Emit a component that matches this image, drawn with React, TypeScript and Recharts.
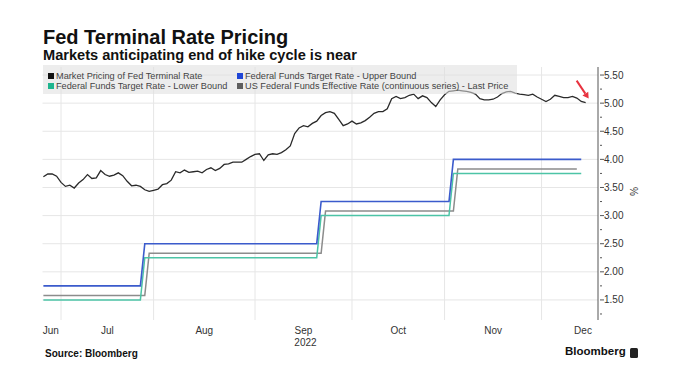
import React from "react";
import { LineChart, Line, XAxis, YAxis, ReferenceLine, ReferenceDot } from "recharts";

// x positions are weekday counts from Mon 27 Jun 2022
const monthLabels = ["Jun", "Jul", "Aug", "Sep", "Oct", "Nov", "Dec"];
const monthLabelDays = [1.7, 14.5, 36.5, 59, 80.5, 102, 122.4];
const monthStartDays = [4, 25, 48, 70, 91, 113];
const yearLabel = "2022";

const marketPricing = [
  3.69, 3.74, 3.74, 3.7, 3.59, 3.52, 3.54, 3.49, 3.58, 3.64,
  3.73, 3.66, 3.67, 3.8, 3.73, 3.7, 3.72, 3.76, 3.71, 3.61,
  3.53, 3.54, 3.52, 3.46, 3.43, 3.45, 3.47, 3.55, 3.57, 3.63,
  3.78, 3.76, 3.81, 3.77, 3.78, 3.79, 3.76, 3.82, 3.85, 3.8,
  3.84, 3.91, 3.92, 3.95, 3.95, 3.95, 4.0, 4.05, 4.09, 4.1,
  3.98, 4.08, 4.1, 4.09, 4.12, 4.17, 4.24, 4.46, 4.56, 4.6,
  4.58, 4.64, 4.68, 4.78, 4.83, 4.85, 4.82, 4.71, 4.6, 4.63,
  4.68, 4.63, 4.65, 4.69, 4.75, 4.82, 4.85, 4.85, 4.9, 5.08,
  5.12, 5.08, 5.1, 5.14, 5.16, 5.08, 5.13, 5.1, 5.01, 4.94,
  5.06, 5.15, 5.21, 5.22, 5.23, 5.22, 5.21, 5.19, 5.16, 5.08,
  5.06, 5.06, 5.07, 5.11, 5.17, 5.2, 5.21, 5.18, 5.16, 5.15,
  5.14, 5.16, 5.11, 5.07, 5.03, 5.07, 5.14, 5.12, 5.1, 5.1,
  5.12, 5.09, 5.03, 5.01,
];

// step series: only the corner points
const targetDays = [0, 22, 23, 62, 63, 92, 93, 122];
const upperBound = [1.75, 1.75, 2.5, 2.5, 3.25, 3.25, 4, 4];
const lowerBound = [1.5, 1.5, 2.25, 2.25, 3, 3, 3.75, 3.75];
const effectiveDays = [0, 23, 24, 63, 64, 93, 94, 121];
const effectiveRate = [1.58, 1.58, 2.33, 2.33, 3.08, 3.08, 3.83, 3.83];

const yTicks = [1.25, 1.5, 1.75, 2, 2.25, 2.5, 2.75, 3, 3.25, 3.5, 3.75, 4, 4.25, 4.5, 4.75, 5, 5.25, 5.5];
const yLabelTicks = [1.5, 2, 2.5, 3, 3.5, 4, 4.5, 5, 5.5];

const FONT = '"Liberation Sans", Arial, sans-serif';

const marketData = marketPricing.map((v, i) => ({ day: i, value: v }));
const upperData = targetDays.map((d, i) => ({ day: d, value: upperBound[i] }));
const lowerData = targetDays.map((d, i) => ({ day: d, value: lowerBound[i] }));
const effData = effectiveDays.map((d, i) => ({ day: d, value: effectiveRate[i] }));

const legend = [
  { name: "Market Pricing of Fed Terminal Rate", color: "#111111", left: 48, top: 72 },
  { name: "Federal Funds Target Rate - Upper Bound", color: "#1f45d6", left: 237, top: 72 },
  { name: "Federal Funds Target Rate - Lower Bound", color: "#1fb58e", left: 48, top: 82 },
  { name: "US Federal Funds Effective Rate (continuous series) - Last Price", color: "#5e5e5e", left: 237, top: 82 },
];

function MonthTick(props: any) {
  const { x, y, payload } = props;
  const i = monthLabelDays.indexOf(payload.value);
  return (
    <g>
      <text x={x} y={y} dy={12} textAnchor="middle" fontSize={10} fill="#333" fontFamily={FONT}>
        {monthLabels[i]}
      </text>
      {monthLabels[i] === "Sep" && (
        <text x={x + 2} y={y} dy={24} textAnchor="middle" fontSize={10} fill="#333" fontFamily={FONT}>
          {yearLabel}
        </text>
      )}
    </g>
  );
}

function RateTick(props: any) {
  const { x, y, payload } = props;
  const major = yLabelTicks.includes(payload.value);
  return (
    <g>
      <line x1={x} x2={x + (major ? 4 : 2)} y1={y} y2={y} stroke="#555" />
      {major && (
        <text x={x + 4} y={y} dy={3.5} fontSize={10} fill="#333" fontFamily={FONT}>
          {payload.value.toFixed(2)}
        </text>
      )}
    </g>
  );
}

function Arrow(props: any) {
  const { cx, cy } = props;
  const tx = cx + 3, ty = cy - 4;
  const sx = cx - 9, sy = cy - 22;
  const dx = tx - sx, dy = ty - sy;
  const len = Math.sqrt(dx * dx + dy * dy);
  const ux = dx / len, uy = dy / len;
  const bx = tx - ux * 6, by = ty - uy * 6;
  return (
    <g>
      <line x1={sx} y1={sy} x2={bx} y2={by} stroke="#e8323f" strokeWidth={2} />
      <polygon
        points={`${tx},${ty} ${bx - uy * 3.5},${by + ux * 3.5} ${bx + uy * 3.5},${by - ux * 3.5}`}
        fill="#e8323f"
      />
    </g>
  );
}

export default function App() {
  return (
    <div style={{ position: "absolute", left: 0, top: 0, width: 675, height: 383, background: "#fff", overflow: "hidden" }}>
      <div style={{ position: "absolute", left: 43, top: 27.4, fontFamily: FONT, fontWeight: 700, fontSize: 20, lineHeight: "20px", color: "#111", whiteSpace: "nowrap" }}>
        Fed Terminal Rate Pricing
      </div>
      <div style={{ position: "absolute", left: 43, top: 47.6, fontFamily: FONT, fontWeight: 700, fontSize: 14.6, lineHeight: "14.6px", color: "#111", whiteSpace: "nowrap" }}>
        Markets anticipating end of hike cycle is near
      </div>

      <LineChart
        width={675}
        height={383}
        margin={{ top: 67, right: 37, bottom: 43, left: 42.5 }}
        style={{ position: "absolute", left: 0, top: 0 }}
      >
        <XAxis
          type="number"
          dataKey="day"
          domain={[-0.2, 125.8]}
          allowDataOverflow
          ticks={monthLabelDays}
          interval={0}
          height={20}
          axisLine={false}
          tickLine={false}
          tickSize={0}
          tick={<MonthTick />}
        />
        <YAxis
          orientation="right"
          type="number"
          domain={[1.143, 5.643]}
          allowDataOverflow
          ticks={yTicks}
          interval={0}
          width={40}
          axisLine={{ stroke: "#555" }}
          tickLine={false}
          tickSize={0}
          tick={<RateTick />}
        />
        {yLabelTicks.map((v) => (
          <ReferenceLine key={"h" + v} y={v} stroke="#e6e6e6" />
        ))}
        {monthStartDays.map((d) => (
          <ReferenceLine key={"v" + d} x={d} stroke="#e6e6e6" />
        ))}
        <Line data={effData} dataKey="value" stroke="#8c8c8c" strokeWidth={1.5} dot={false} isAnimationActive={false} />
        <Line data={lowerData} dataKey="value" stroke="#4cc4a6" strokeWidth={1.5} dot={false} isAnimationActive={false} />
        <Line data={upperData} dataKey="value" stroke="#3b5bcc" strokeWidth={1.6} dot={false} isAnimationActive={false} />
        <Line data={marketData} dataKey="value" stroke="#2a2a2a" strokeWidth={1.3} dot={false} isAnimationActive={false} />
        <ReferenceDot x={123} y={marketPricing[123]} r={0} shape={<Arrow />} />
      </LineChart>

      <div style={{ position: "absolute", left: 43, top: 65, width: 474, height: 29, background: "rgba(222,222,222,0.55)" }} />
      {legend.map((l) => (
        <div key={l.name} style={{ position: "absolute", left: l.left, top: l.top, height: 8, display: "flex", alignItems: "center", whiteSpace: "nowrap", fontFamily: FONT, fontSize: 9.2, color: "#444" }}>
          <span style={{ display: "inline-block", width: 6, height: 6, background: l.color, marginRight: 2 }} />
          {l.name}
        </div>
      ))}

      <div style={{ position: "absolute", left: 629, top: 186, fontFamily: FONT, fontSize: 10, color: "#333", transform: "rotate(90deg)" }}>%</div>

      <div style={{ position: "absolute", left: 45, top: 348, fontFamily: FONT, fontWeight: 700, fontSize: 10, color: "#111", whiteSpace: "nowrap" }}>
        Source: Bloomberg
      </div>
      <div style={{ position: "absolute", left: 565, top: 345, fontFamily: FONT, fontWeight: 700, fontSize: 11.5, color: "#111", whiteSpace: "nowrap" }}>
        Bloomberg
      </div>
      <div style={{ position: "absolute", left: 630, top: 348, width: 8, height: 10, borderRadius: 1.5, background: "#222" }} />
    </div>
  );
}
